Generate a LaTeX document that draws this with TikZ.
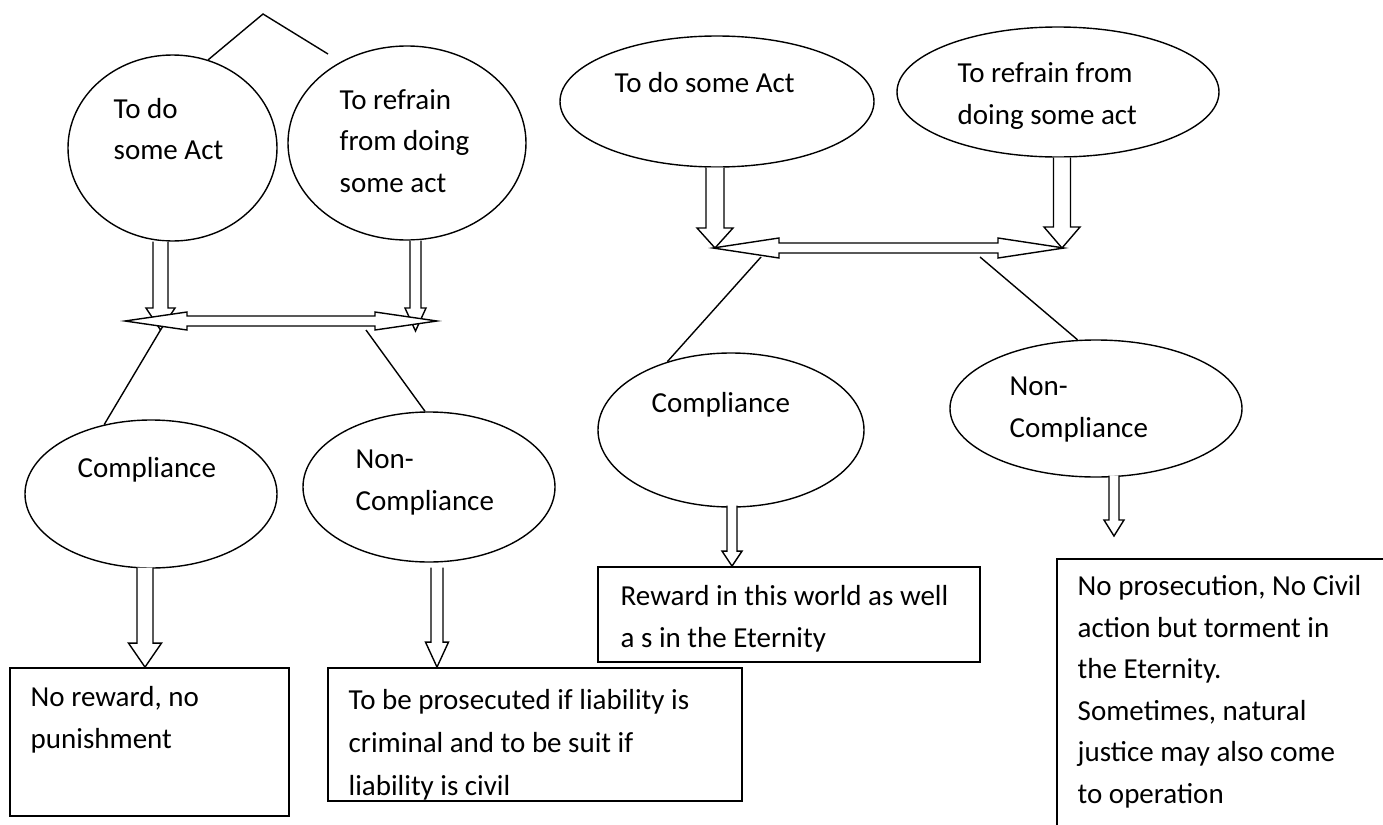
\documentclass[tikz,border=0pt]{standalone}
\usepackage{fontspec}
\setmainfont{Carlito}
\usetikzlibrary{shapes.geometric,calc}

% hollow block arrows
\newcommand\blockdown[5]{%
  \draw[fill=white] ($(#1)+(-#3,0)$) -- ($(#2)+(-#3,-#5)$) -- ($(#2)+(-#4,-#5)$) -- (#2)
  -- ($(#2)+(#4,-#5)$) -- ($(#2)+(#3,-#5)$) -- ($(#1)+(#3,0)$);
}
\newcommand\blockboth[5]{%
  \draw[fill=white] (#1) -- ($(#1)+(#5,-#4)$) -- ($(#1)+(#5,-#3)$) -- ($(#2)+(-#5,-#3)$)
  -- ($(#2)+(-#5,-#4)$) -- (#2) -- ($(#2)+(-#5,#4)$) -- ($(#2)+(-#5,#3)$)
  -- ($(#1)+(#5,#3)$) -- ($(#1)+(#5,#4)$) -- cycle;
}

\begin{document}
\begin{tikzpicture}[x=0.5pt,y=-0.5pt,line width=0.7pt,
  bub/.style={ellipse,draw,inner sep=0pt},
  box/.style={rectangle,draw,line width=0.9pt,inner sep=0pt},
  txt/.style={align=left,anchor=base west,inner sep=0pt,
    font=\fontsize{14.5}{20.75}\selectfont}]
  \useasboundingbox (0,0) rectangle (1383,825);
  \clip (0,0) rectangle (1383,825);

  %left ellipses (text anchored at its last line)
  \node[bub,minimum width=104.5pt,minimum height=93pt] (todoA) at (172.5,148) {};
  \node[txt] (todoAt) at (113,159.5) {To do\\some Act};
  \node[bub,minimum width=119pt,minimum height=97pt] (refA) at (407,143) {};
  \node[txt] (refAt) at (339,192) {To refrain\\from doing\\some act};
  \node[bub,minimum width=126pt,minimum height=74pt] (compA) at (151,494) {};
  \node[txt] (compAt) at (77,477) {Compliance};
  \node[bub,minimum width=126pt,minimum height=75pt] (nonA) at (429,487) {};
  \node[txt] (nonAt) at (355,510) {Non-\\Compliance};

  %left boxes
  \node[box,minimum width=139.5pt,minimum height=74pt] (boxA) at (149.5,742) {};
  \node[txt] (boxAt) at (30,748) {No reward, no\\punishment};
  \node[box,minimum width=207pt,minimum height=66.5pt] (boxB) at (535,734.5) {};
  \begin{scope}
    \clip (boxB.south west) rectangle (boxB.north east);
    \node[txt,font=\fontsize{14.5}{21.5}\selectfont] (boxBt) at (348,795)
      {To be prosecuted if liability is\\criminal and to be suit if\\liability is civil};
  \end{scope}

  %right ellipses
  \node[bub,minimum width=157pt,minimum height=65.5pt] (todoB) at (717,101.5) {};
  \node[txt] (todoBt) at (614,92) {To do some Act};
  \node[bub,minimum width=161pt,minimum height=65pt] (refB) at (1058,92) {};
  \node[txt] (refBt) at (957,124) {To refrain from\\doing some act};
  \node[bub,minimum width=133pt,minimum height=77pt] (compB) at (731,430) {};
  \node[txt] (compBt) at (651,412) {Compliance};
  \node[bub,minimum width=146pt,minimum height=68.5pt] (nonB) at (1096,408.5) {};
  \node[txt] (nonBt) at (1009,437) {Non-\\Compliance};

  %right boxes
  \node[box,minimum width=191pt,minimum height=47.5pt] (boxC) at (789,614.5) {};
  \node[txt] (boxCt) at (620,647) {Reward in this world as well\\a s in the Eternity};
  \node[box,minimum width=200pt,minimum height=200pt] (boxD) at (1257,759) {};
  \node[txt] (boxDt) at (1077,803)
    {No prosecution, No Civil\\action but torment in\\the Eternity.\\Sometimes, natural\\justice may also come\\to operation};

  %peak over left part
  \coordinate (peak) at (263,14);
  \coordinate (peakR) at (328,54);
  \draw (todoA.68) -- (peak) -- (peakR);

  %left arrows
  \coordinate (tipA1) at (160.5,330);
  \coordinate (tipA2) at (415.5,331);
  \blockdown{tipA1|-todoA.south}{tipA1}{7.5}{14.5}{22}
  \blockdown{tipA2|-refA.south}{tipA2}{5.5}{10.5}{23}
  \coordinate (dblAl) at (125,321);
  \coordinate (dblAr) at (437,321);
  \blockboth{dblAl}{dblAr}{5}{9}{62}
  \coordinate (splitAr) at (366,330);
  \draw (tipA1) -- (compA.124);
  \draw (splitAr) -- (nonA.93);
  \coordinate (outA1) at ($(compA.south)+(-6,-1)$);
  \coordinate (outA2) at ($(nonA.south)+(8,5)$);
  \blockdown{outA1}{outA1|-boxA.north}{8}{16.5}{24}
  \blockdown{outA2}{outA2|-boxB.north}{6}{11.5}{25}

  %right arrows
  \coordinate (tipB1) at (715,248);
  \coordinate (tipB2) at (1062,248);
  \blockdown{tipB1|-todoB.south}{tipB1}{9}{18}{20}
  \blockdown{tipB2|-refB.south}{tipB2}{8.5}{18}{21}
  \coordinate (dblBl) at (713,248);
  \coordinate (dblBr) at (1064,248);
  \blockboth{dblBl}{dblBr}{5}{10}{66}
  \coordinate (splitBl) at (761,257);
  \coordinate (splitBr) at (980,257);
  \draw (splitBl) -- (compB.133);
  \draw (splitBr) -- (nonB.105);
  \coordinate (outB1) at ($(compB.south)+(1,-2)$);
  \coordinate (outB2) at ($(nonB.south)+(18,-2)$);
  \coordinate (tipB4) at (1114,536);
  \blockdown{outB1}{outB1|-boxC.north}{5}{10}{15}
  \blockdown{outB2}{tipB4}{5}{10}{16}
\end{tikzpicture}
\end{document}
